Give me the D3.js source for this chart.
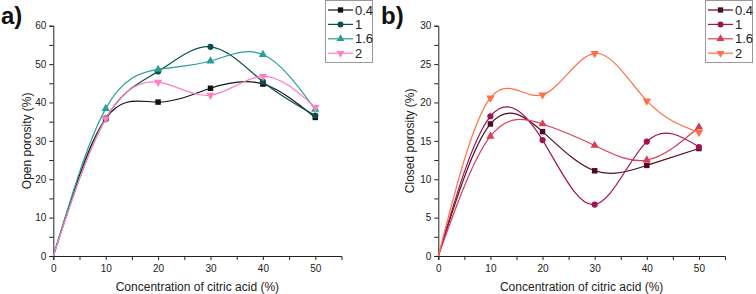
<!DOCTYPE html>
<html>
<head>
<meta charset="UTF-8">
<script src="https://d3js.org/d3.v7.min.js"></script>
<style>
  body { margin: 0; background: #fff; }
  svg { display: block; font-family: Arial, "Liberation Sans", sans-serif; }
  .domain, .tick line { stroke: #222; }
  .tick text { fill: #222; font-size: 10px; }
</style>
</head>
<body>
<svg id="chart" width="756" height="294"></svg>
<script>
  const xValues = [0, 10, 20, 30, 40, 50];
  const seriesNames = ["0.4", "1", "1.6", "2"];

  // a) open porosity (%)
  const open04 = [0, 35.8, 40.1, 43.7, 44.8, 36.1];
  const open1 = [0, 35.8, 48.1, 54.5, 45.4, 36.6];
  const open16 = [0, 38.4, 48.6, 50.8, 52.5, 38.2];
  const open2 = [0, 35.8, 45.3, 41.9, 46.8, 38.7];

  // b) closed porosity (%)
  const closed04 = [0, 17.2, 16.2, 11.1, 11.8, 14.0];
  const closed1 = [0, 18.2, 15.1, 6.7, 14.9, 14.2];
  const closed16 = [0, 15.6, 17.2, 14.4, 12.5, 16.8];
  const closed2 = [0, 20.6, 21.0, 26.4, 20.2, 16.1];

  const colorsA = ["#111111", "#0d4f4c", "#27a09a", "#ff7ec6"];
  const colorsB = ["#4d0c26", "#a01250", "#dc3c56", "#ff6e45"];
  const symbols = [d3.symbolSquare, d3.symbolCircle, d3.symbolTriangle, "down"];

  const svg = d3.select("#chart");

  function marker(g, kind, color, size) {
    if (kind === "down") {
      g.append("path")
        .attr("d", d3.symbol(d3.symbolTriangle, size)())
        .attr("transform", "rotate(180)")
        .attr("fill", color);
    } else {
      g.append("path")
        .attr("d", d3.symbol(kind, size)())
        .attr("fill", color);
    }
  }

  function panel(opt) {
    const x = d3.scaleLinear().domain([0, 55]).range([opt.left, opt.right]);
    const y = d3.scaleLinear().domain([0, opt.ymax]).range([256, 25.7]);
    const g = svg.append("g");

    g.append("g")
      .attr("transform", "translate(0,256)")
      .call(d3.axisBottom(x).tickValues(d3.range(0, 55, 5)).tickSize(4)
        .tickFormat(d => d % 10 === 0 ? d : ""))
      .call(a => a.selectAll(".tick text").attr("dy", "0.9em"));

    g.append("g")
      .attr("transform", `translate(${opt.left},0)`)
      .call(d3.axisLeft(y).tickValues(d3.range(0, opt.ymax + opt.step / 2, opt.step / 2)).tickSize(4)
        .tickFormat(d => d % opt.step === 0 ? d : ""));

    g.selectAll(".domain").attr("stroke-width", 1);

    const line = d3.line()
      .x((d, i) => x(xValues[i]))
      .y(d => y(d))
      .curve(d3.curveNatural);

    opt.series.forEach((vals, k) => {
      g.append("path")
        .attr("d", line(vals))
        .attr("fill", "none")
        .attr("stroke", opt.colors[k])
        .attr("stroke-width", 1.2);
    });
    opt.series.forEach((vals, k) => {
      vals.forEach((v, i) => {
        if (i === 0) return;
        const m = g.append("g").attr("transform", `translate(${x(xValues[i])},${y(v)})`);
        marker(m, symbols[k], opt.colors[k], 30);
      });
    });

    g.append("text")
      .attr("x", opt.left + (x(55) - opt.left) / 2)
      .attr("y", 291)
      .attr("text-anchor", "middle")
      .attr("font-size", 12)
      .attr("fill", "#222")
      .text("Concentration of citric acid (%)");

    g.append("text")
      .attr("transform", `translate(${opt.ylabelX},${y(opt.ymax / 2)}) rotate(-90)`)
      .attr("text-anchor", "middle")
      .attr("font-size", 12)
      .attr("fill", "#222")
      .text(opt.ylabel);

    g.append("text")
      .attr("x", opt.tagX)
      .attr("y", 24)
      .attr("font-size", 24)
      .attr("font-weight", "bold")
      .attr("fill", "#111")
      .text(opt.tag);

    const lg = g.append("g").attr("transform", `translate(${opt.legendX},0)`);
    lg.append("rect")
      .attr("x", 0.5).attr("y", 0.5)
      .attr("width", 47).attr("height", 62)
      .attr("fill", "#fff")
      .attr("stroke", "#999");
    seriesNames.forEach((name, k) => {
      const yy = 10 + k * 14.4;
      lg.append("line")
        .attr("x1", 3).attr("x2", 28)
        .attr("y1", yy).attr("y2", yy)
        .attr("stroke", opt.colors[k]).attr("stroke-width", 1.2);
      const m = lg.append("g").attr("transform", `translate(15.5,${yy})`);
      marker(m, symbols[k], opt.colors[k], 28);
      lg.append("text")
        .attr("x", 30).attr("y", yy)
        .attr("dy", "0.36em")
        .attr("font-size", 13)
        .attr("fill", "#222")
        .text(name);
    });
  }

  panel({
    left: 53.3, right: 341.5, ymax: 60, step: 10,
    series: [open04, open1, open16, open2], colors: colorsA,
    ylabel: "Open porosity (%)", ylabelX: 31, tag: "a)", tagX: 1, legendX: 325
  });

  panel({
    left: 438.3, right: 725, ymax: 30, step: 5,
    series: [closed04, closed1, closed16, closed2], colors: colorsB,
    ylabel: "Closed porosity (%)", ylabelX: 414, tag: "b)", tagX: 381, legendX: 705
  });
</script>
</body>
</html>
